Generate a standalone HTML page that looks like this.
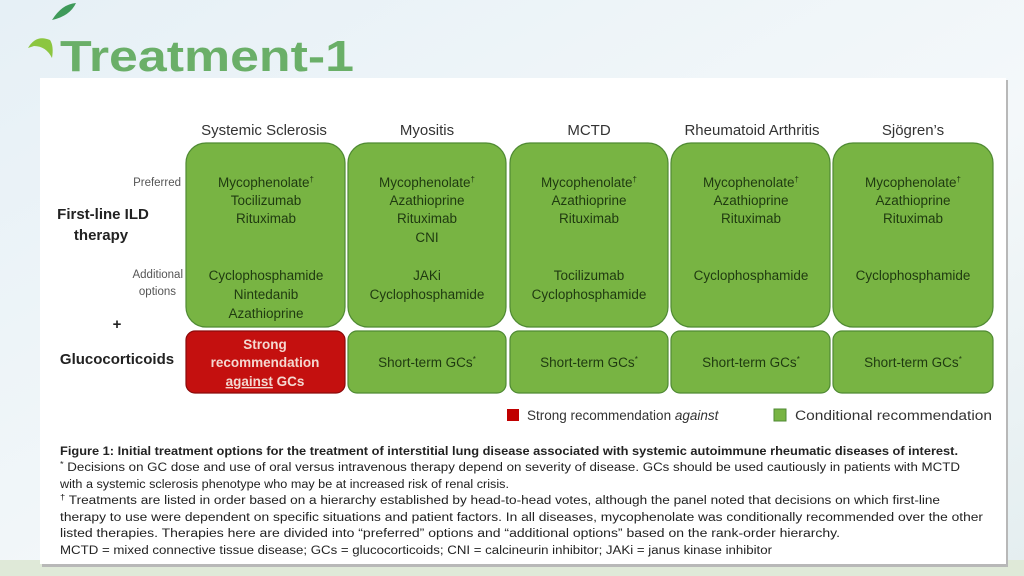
<!DOCTYPE html>
<html><head><meta charset="utf-8"><style>
html,body{margin:0;padding:0;width:1024px;height:576px;overflow:hidden;background:#eef4f8}
svg{display:block}
text{font-family:"Liberation Sans",sans-serif}
</style></head><body>
<svg width="1024" height="576" viewBox="0 0 1024 576" xmlns="http://www.w3.org/2000/svg">
<defs>
<linearGradient id="bg" x1="0" y1="0" x2="1" y2="1">
<stop offset="0" stop-color="#e6f0f6"/><stop offset="0.6" stop-color="#f4f8fa"/><stop offset="1" stop-color="#e4eef0"/>
</linearGradient>
</defs>
<rect width="1024" height="576" fill="url(#bg)"/>
<rect x="0" y="560" width="1024" height="16" fill="#dfe9d8"/>
<path d="M52 20 Q62 4 76 3 Q70 16 52 20Z" fill="#3f9a5a"/>
<path d="M28 48 Q36 34 50 40 Q54 46 52 58 Q46 46 34 46 Z" fill="#8cc63f"/>
<text x="60" y="71" font-size="44" font-weight="bold" fill="#6aaf68" textLength="294" lengthAdjust="spacingAndGlyphs">Treatment-1</text>
<rect x="42" y="80" width="966" height="487" fill="#b8b8b8"/>
<rect x="40" y="78" width="966" height="486" fill="#ffffff"/>
<g font-size="15" fill="#333" text-anchor="middle">
<text x="264" y="135">Systemic Sclerosis</text>
<text x="427" y="135">Myositis</text>
<text x="589" y="135">MCTD</text>
<text x="752" y="135">Rheumatoid Arthritis</text>
<text x="913" y="135">Sjögren’s</text>
</g>
<g fill="#555" font-size="11.5" text-anchor="end">
<text x="181" y="186">Preferred</text>
<text x="183" y="278">Additional</text>
<text x="176" y="295">options</text>
</g>
<g font-size="15" font-weight="bold" fill="#222" text-anchor="middle">
<text x="103" y="219">First-line ILD</text>
<text x="101" y="240">therapy</text>
<text x="117" y="329">+</text>
<text x="117" y="364">Glucocorticoids</text>
</g>
<g fill="#78b443" stroke="#4f8a33" stroke-width="1.2">
<rect x="186" y="143" width="159" height="184" rx="20"/>
<rect x="348" y="143" width="158" height="184" rx="20"/>
<rect x="510" y="143" width="158" height="184" rx="20"/>
<rect x="671" y="143" width="159" height="184" rx="20"/>
<rect x="833" y="143" width="160" height="184" rx="20"/>
<rect x="348" y="331" width="158" height="62" rx="9"/>
<rect x="510" y="331" width="158" height="62" rx="9"/>
<rect x="671" y="331" width="159" height="62" rx="9"/>
<rect x="833" y="331" width="160" height="62" rx="9"/>
</g>
<rect x="186" y="331" width="159" height="62" rx="9" fill="#c4100f" stroke="#8a0a0a" stroke-width="1.2"/>
<g font-size="13.5" fill="#1f3a10" text-anchor="middle">
<text x="266" y="187">Mycophenolate<tspan font-size="8" dy="-5">†</tspan></text>
<text x="266" y="205">Tocilizumab</text>
<text x="266" y="223">Rituximab</text>
<text x="266" y="280">Cyclophosphamide</text>
<text x="266" y="299">Nintedanib</text>
<text x="266" y="318">Azathioprine</text>

<text x="427" y="187">Mycophenolate<tspan font-size="8" dy="-5">†</tspan></text>
<text x="427" y="205">Azathioprine</text>
<text x="427" y="223">Rituximab</text>
<text x="427" y="242">CNI</text>
<text x="427" y="280">JAKi</text>
<text x="427" y="299">Cyclophosphamide</text>

<text x="589" y="187">Mycophenolate<tspan font-size="8" dy="-5">†</tspan></text>
<text x="589" y="205">Azathioprine</text>
<text x="589" y="223">Rituximab</text>
<text x="589" y="280">Tocilizumab</text>
<text x="589" y="299">Cyclophosphamide</text>

<text x="751" y="187">Mycophenolate<tspan font-size="8" dy="-5">†</tspan></text>
<text x="751" y="205">Azathioprine</text>
<text x="751" y="223">Rituximab</text>
<text x="751" y="280">Cyclophosphamide</text>

<text x="913" y="187">Mycophenolate<tspan font-size="8" dy="-5">†</tspan></text>
<text x="913" y="205">Azathioprine</text>
<text x="913" y="223">Rituximab</text>
<text x="913" y="280">Cyclophosphamide</text>

<text x="427" y="367">Short-term GCs<tspan font-size="8" dy="-5">*</tspan></text>
<text x="589" y="367">Short-term GCs<tspan font-size="8" dy="-5">*</tspan></text>
<text x="751" y="367">Short-term GCs<tspan font-size="8" dy="-5">*</tspan></text>
<text x="913" y="367">Short-term GCs<tspan font-size="8" dy="-5">*</tspan></text>
</g>
<g font-size="13.5" font-weight="bold" fill="#f4d8d0" text-anchor="middle">
<text x="265" y="349">Strong</text>
<text x="265" y="367">recommendation</text>
<text x="265" y="386"><tspan text-decoration="underline">against</tspan> GCs</text>
</g>
<rect x="507" y="409" width="12" height="12" fill="#c00000"/>
<text x="527" y="420" font-size="13.5" fill="#333">Strong recommendation <tspan font-style="italic">against</tspan></text>
<rect x="774" y="409" width="12" height="12" fill="#78b443" stroke="#4f8a33"/>
<text x="795" y="420" font-size="13.5" fill="#333" textLength="197" lengthAdjust="spacingAndGlyphs">Conditional recommendation</text>
<g font-size="11.5" fill="#222">
<text x="60" y="455" font-weight="bold" textLength="898" lengthAdjust="spacingAndGlyphs">Figure 1: Initial treatment options for the treatment of interstitial lung disease associated with systemic autoimmune rheumatic diseases of interest.</text>
<text x="60" y="471" textLength="900" lengthAdjust="spacingAndGlyphs"><tspan font-size="8" dy="-4">*</tspan><tspan dy="4"> Decisions on GC dose and use of oral versus intravenous therapy depend on severity of disease. GCs should be used cautiously in patients with MCTD</tspan></text>
<text x="60" y="488" textLength="449" lengthAdjust="spacingAndGlyphs">with a systemic sclerosis phenotype who may be at increased risk of renal crisis.</text>
<text x="60" y="504" textLength="880" lengthAdjust="spacingAndGlyphs"><tspan font-size="8" dy="-4">†</tspan><tspan dy="4"> Treatments are listed in order based on a hierarchy established by head-to-head votes, although the panel noted that decisions on which first-line</tspan></text>
<text x="60" y="521" textLength="923" lengthAdjust="spacingAndGlyphs">therapy to use were dependent on specific situations and patient factors. In all diseases, mycophenolate was conditionally recommended over the other</text>
<text x="60" y="537" textLength="780" lengthAdjust="spacingAndGlyphs">listed therapies. Therapies here are divided into “preferred” options and “additional options” based on the rank-order hierarchy.</text>
<text x="60" y="554" textLength="712" lengthAdjust="spacingAndGlyphs">MCTD = mixed connective tissue disease; GCs = glucocorticoids; CNI = calcineurin inhibitor; JAKi = janus kinase inhibitor</text>
</g>
</svg>
</body></html>
